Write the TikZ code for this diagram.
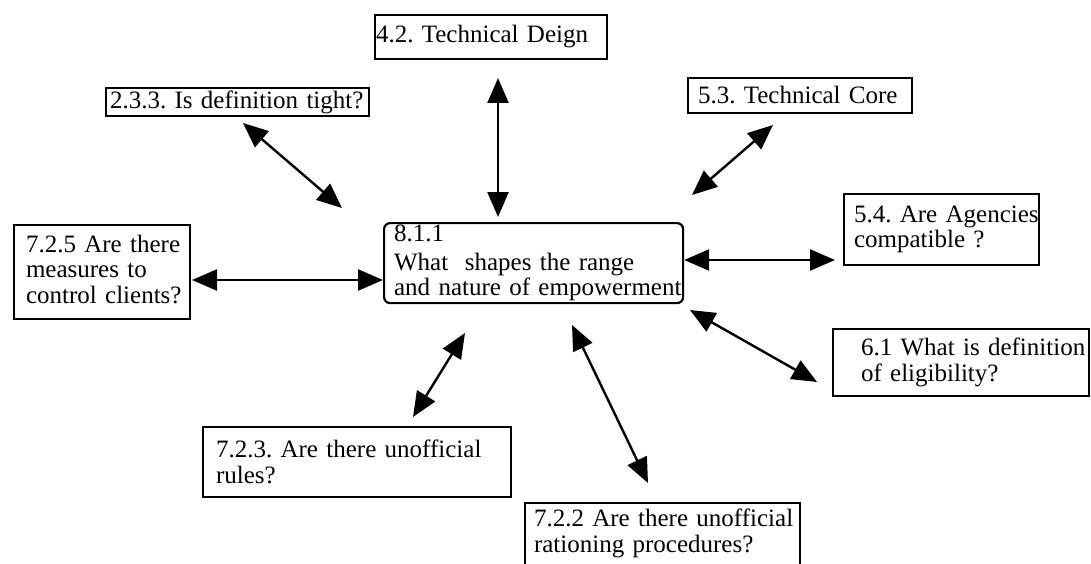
\documentclass[tikz,border=0pt]{standalone}
\usepackage{fontspec}
\setmainfont{Liberation Serif}
\usetikzlibrary{arrows.meta}
\newcommand{\qline}[1]{\mbox{#1}}
\begin{document}
\begin{tikzpicture}[x=1pt,y=-1pt,
  qbox/.style n args={3}{draw, line width=2pt, rectangle, anchor=north west,
    inner ysep=0pt, inner xsep=#3, text width=#1, minimum height=#2,
    align=left, font=\fontsize{25}{25.5}\selectfont\frenchspacing},
  link/.style={line width=2.4pt,
    {Triangle[length=25pt,width=21pt]}-{Triangle[length=25pt,width=21pt]}}]
\useasboundingbox (0,0) rectangle (1091,564);

% central question
\node[qbox={279pt}{80pt}{10pt}, rounded corners=6pt, line width=2.2pt] (c) at (383,222)
  {\qline{8.1.1}\\[3pt]\qline{What~ shapes the range}\\\qline{and nature of empowerment}};

% surrounding questions
\node[qbox={230pt}{44pt}{1pt}] (d42) at (374,14) {\qline{4.2. Technical Deign}};
\node[qbox={255pt}{28pt}{4pt}] (d233) at (105,87) {\qline{2.3.3. Is definition tight?}};
\node[qbox={204pt}{35pt}{10pt}] (d53) at (687,77) {\qline{5.3. Technical Core}};
\node[qbox={152pt}{94pt}{12pt}] (d725) at (13,224)
  {\qline{7.2.5 Are there}\\\qline{measures to}\\\qline{control clients?}\vphantom{g}};
\node[qbox={175pt}{71pt}{10pt}] (d54) at (843,193)
  {\qline{5.4. Are Agencies}\\\qline{compatible ?}};
\node[qbox={200pt}{67pt}{28pt}] (d61) at (832,328)
  {\qline{6.1 What is definition}\\\qline{of eligibility?}};
\node[qbox={282pt}{70pt}{13pt}] (d723) at (202,426)
  {\qline{7.2.3. Are there unofficial}\\\qline{rules?}};
\node[qbox={257pt}{75pt}{9pt}] (d722) at (524,502)
  {\qline{7.2.2 Are there unofficial}\\\qline{rationing procedures?}\rule[-20pt]{0pt}{0pt}};

% arrow end points
\coordinate (a42) at (498,78);   \coordinate (c42) at (498,217);
\coordinate (a233) at (243,123); \coordinate (c233) at (342,208);
\coordinate (a53) at (773,125);  \coordinate (c53) at (692,195);
\coordinate (a725) at (192,280); \coordinate (c725) at (c.west |- a725);
\coordinate (a54) at (835,260);  \coordinate (c54) at (c.east |- a54);
\coordinate (a61) at (817,382);  \coordinate (c61) at (690,310);
\coordinate (a723) at (413,417); \coordinate (c723) at (465,333);
\coordinate (a722) at (648,483); \coordinate (c722) at (572,325);

% two-way links
\draw[link] (a42) -- (c42);
\draw[link] (a233) -- (c233);
\draw[link] (a53) -- (c53);
\draw[link] (a725) -- (c725);
\draw[link] (c54) -- (a54);
\draw[link] (c61) -- (a61);
\draw[link] (c723) -- (a723);
\draw[link] (c722) -- (a722);
\end{tikzpicture}
\end{document}
